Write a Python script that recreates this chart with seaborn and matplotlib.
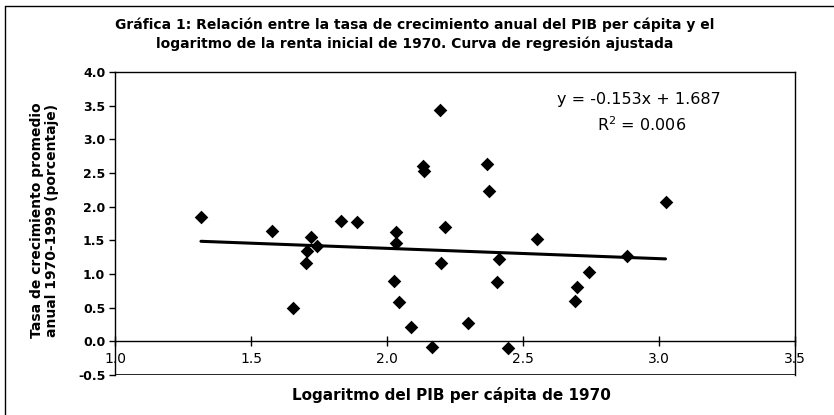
import numpy as np
import pandas as pd
import matplotlib.pyplot as plt
from matplotlib.lines import Line2D
import seaborn as sns

# Datos
log_pib_1970 = [1.316, 1.576, 1.656, 1.701, 1.705, 1.720, 1.744, 1.831, 1.888,
                2.033, 2.033, 2.027, 2.043, 2.087, 2.164, 2.131, 2.135, 2.195,
                2.213, 2.197, 2.297, 2.366, 2.376, 2.412, 2.404, 2.444, 2.550,
                2.697, 2.690, 2.743, 2.884, 3.024]
tasa_crec = [1.85, 1.64, 0.50, 1.16, 1.34, 1.55, 1.41, 1.79, 1.77,
             1.62, 1.46, 0.90, 0.58, 0.22, -0.08, 2.60, 2.53, 3.44,
             1.70, 1.16, 0.27, 2.63, 2.24, 1.22, 0.88, -0.10, 1.52,
             0.81, 0.60, 1.03, 1.26, 2.07]
pendiente = -0.153
intercepto = 1.687
r2 = 0.006

x_ticks = [1.0, 1.5, 2.0, 2.5, 3.0, 3.5]
y_ticks = [-0.5, 0.0, 0.5, 1.0, 1.5, 2.0, 2.5, 3.0, 3.5, 4.0]

df = pd.DataFrame({"x": log_pib_1970, "y": tasa_crec})
x_fit = np.array([df["x"].min(), df["x"].max()])
df_fit = pd.DataFrame({"x": x_fit, "y": pendiente * x_fit + intercepto})

sns.set_style("white")
plt.rcParams["font.family"] = ["DejaVu Sans"]
plt.rcParams["text.color"] = "black"
plt.rcParams["axes.labelcolor"] = "black"
plt.rcParams["xtick.color"] = "black"
plt.rcParams["ytick.color"] = "black"

fig = plt.figure(figsize=(8.34, 4.15), dpi=100)
ax = fig.add_axes([0.1379, 0.0964, 0.8153, 0.7301])

sns.scatterplot(data=df, x="x", y="y", ax=ax, marker="D", s=48,
                color="black", edgecolor="black", linewidth=0, zorder=3)
sns.lineplot(data=df_fit, x="x", y="y", ax=ax, color="black", linewidth=2.2, zorder=2)

ax.set_xlim(1.0, 3.5)
ax.set_ylim(-0.5, 4.0)
ax.set_xticks(x_ticks)
ax.set_yticks(y_ticks)
ax.set_xticklabels([f"{t:.1f}" for t in x_ticks], fontweight="bold", fontsize=9)
ax.set_yticklabels([f"{t:.1f}" for t in y_ticks], fontweight="bold", fontsize=9)

# eje x en y = 0, estilo Excel
ax.spines["bottom"].set_position(("data", 0))
for s in ["left", "top", "right", "bottom"]:
    ax.spines[s].set_color("black")
    ax.spines[s].set_linewidth(1.0)
ax.add_line(Line2D([0, 1], [0, 0], transform=ax.transAxes, color="black", linewidth=1.2))
ax.tick_params(axis="x", direction="inout", length=7, width=1, pad=4, colors="black")
ax.tick_params(axis="y", direction="out", length=4, width=1, pad=3, colors="black")
ax.xaxis.set_ticks_position("bottom")
ax.yaxis.set_ticks_position("left")

ax.set_xlabel("")
ax.set_ylabel("")
fig.text(0.541, 0.047, "Logaritmo del PIB per cápita de 1970", ha="center", va="center",
         fontsize=11, fontweight="bold", color="black")
fig.text(0.053, 0.47, "Tasa de crecimiento promedio\nanual 1970-1999 (porcentaje)",
         ha="center", va="center", rotation=90, fontsize=10, fontweight="bold",
         linespacing=1.1, color="black")
fig.text(0.497, 0.917, "Gráfica 1: Relación entre la tasa de crecimiento anual del PIB per cápita y el\n"
         "logaritmo de la renta inicial de 1970. Curva de regresión ajustada",
         ha="center", va="center", fontsize=10, fontweight="bold", linespacing=1.35,
         color="black")

ax.text(0.77, 0.91, f"y = {pendiente:.3f}x + {intercepto:.3f}", transform=ax.transAxes,
        ha="center", va="center", fontsize=11.5, color="black")
ax.text(0.775, 0.825, f"R$^2$ = {r2:.3f}", transform=ax.transAxes,
        ha="center", va="center", fontsize=11.5, color="black")

# marco exterior
fig.add_artist(Line2D([5 / 834, 1], [1 - 6 / 415, 1 - 6 / 415], transform=fig.transFigure,
                      color="black", linewidth=1))
fig.add_artist(Line2D([5 / 834, 5 / 834], [0, 1 - 6 / 415], transform=fig.transFigure,
                      color="black", linewidth=1))

fig.savefig("out.png", dpi=100)
